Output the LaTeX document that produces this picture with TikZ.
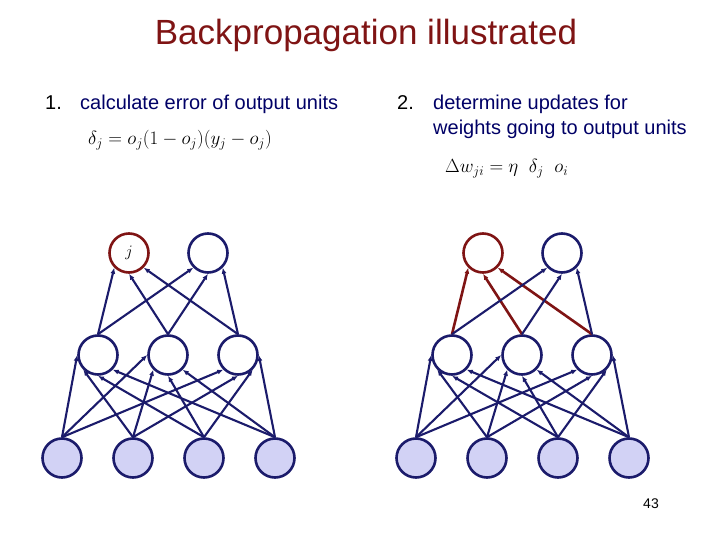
\RequirePackage{fix-cm}
\documentclass[tikz,border=0pt]{standalone}
\usepackage[no-math]{fontspec}
\setmainfont{Liberation Sans}
\usetikzlibrary{arrows.meta}
\definecolor{ink}{HTML}{1B1B6B}
\definecolor{navytext}{HTML}{000066}
\definecolor{accent}{HTML}{7F1414}
\definecolor{unitfill}{HTML}{D2D2F5}

\begin{document}
\begin{tikzpicture}[
  x=1pt, y=-1pt,
  unit/.style={
    circle,
    draw=ink,
    line width=2.6pt,
    minimum size=39pt,
    inner sep=0pt,
    fill=white
  },
  input/.style={unit, fill=unitfill},
  picked/.style={unit, draw=accent},
  arrow/.style={-{Latex[length=6pt,width=5pt]}, line width=2.1pt, draw=ink},
  hot/.style={arrow, draw=accent, line width=2.6pt},
  title/.style={font=\fontsize{35}{40}\selectfont, text=accent, anchor=base},
  num/.style={font=\fontsize{20}{24}\selectfont, text=black, anchor=base west, inner sep=0pt},
  item/.style={font=\fontsize{20}{24}\selectfont, text=navytext, anchor=base west, inner sep=0pt},
  formula/.style={font=\fontsize{19}{23}\selectfont, text=black, anchor=base west, inner sep=0pt}
]
\useasboundingbox (0,0) rectangle (720,540);

\node[title] (head) at (366,45) {Backpropagation illustrated};

\node[num] (num1) at (45,110) {1.};
\node[item] (step1) at (80,110) {calculate error of output units};
\node[formula] (delta) at (88,145) {$\delta_j = o_j(1-o_j)(y_j-o_j)$};

\node[num] (num2) at (397,110) {2.};
\node[item] (step2) at (433,110) {determine updates for};
\node[item] (step2b) at (433,135) {weights going to output units};
\node[formula] (update) at (445,173) {$\Delta w_{ji} = \eta\ \ \delta_j\ \ o_i$};

\node[font=\fontsize{14}{16}\selectfont] (page) at (651,504) {43};

% left network
\node[picked] (lo1) at (129,253) {\fontsize{16}{18}\selectfont$j$};
\node[unit] (lo2) at (208,253) {};
\node[unit] (lh1) at (98,355) {};
\node[unit] (lh2) at (168,355) {};
\node[unit] (lh3) at (238,355) {};
\node[input] (li1) at (62,458) {};
\node[input] (li2) at (133,458) {};
\node[input] (li3) at (204,458) {};
\node[input] (li4) at (275,458) {};

\draw[arrow] (li1.north) -- (lh1.west);
\draw[arrow] (li2.north) -- (lh1.south west);
\draw[arrow] (li3.north) -- (lh1.south);
\draw[arrow] (li4.north) -- (lh1.south east);
\draw[arrow] (li1.north) -- (lh2.west);
\draw[arrow] (li2.north) -- (lh2.south west);
\draw[arrow] (li3.north) -- (lh2.south);
\draw[arrow] (li4.north) -- (lh2.south east);
\draw[arrow] (li1.north) -- (lh3.south west);
\draw[arrow] (li2.north) -- (lh3.south);
\draw[arrow] (li3.north) -- (lh3.south east);
\draw[arrow] (li4.north) -- (lh3.east);

\draw[arrow] (lh1.north) -- (lo1.south west);
\draw[arrow] (lh2.north) -- (lo1.south);
\draw[arrow] (lh3.north) -- (lo1.south east);
\draw[arrow] (lh1.north) -- (lo2.south west);
\draw[arrow] (lh2.north) -- (lo2.south);
\draw[arrow] (lh3.north) -- (lo2.south east);

% right network
\node[picked] (ro1) at (483,253) {};
\node[unit] (ro2) at (562,253) {};
\node[unit] (rh1) at (452,355) {};
\node[unit] (rh2) at (522,355) {};
\node[unit] (rh3) at (592,355) {};
\node[input] (ri1) at (416,458) {};
\node[input] (ri2) at (487,458) {};
\node[input] (ri3) at (558,458) {};
\node[input] (ri4) at (629,458) {};

\draw[arrow] (ri1.north) -- (rh1.west);
\draw[arrow] (ri2.north) -- (rh1.south west);
\draw[arrow] (ri3.north) -- (rh1.south);
\draw[arrow] (ri4.north) -- (rh1.south east);
\draw[arrow] (ri1.north) -- (rh2.west);
\draw[arrow] (ri2.north) -- (rh2.south west);
\draw[arrow] (ri3.north) -- (rh2.south);
\draw[arrow] (ri4.north) -- (rh2.south east);
\draw[arrow] (ri1.north) -- (rh3.south west);
\draw[arrow] (ri2.north) -- (rh3.south);
\draw[arrow] (ri3.north) -- (rh3.south east);
\draw[arrow] (ri4.north) -- (rh3.east);

\draw[hot] (rh1.north) -- (ro1.south west);
\draw[hot] (rh2.north) -- (ro1.south);
\draw[hot] (rh3.north) -- (ro1.south east);
\draw[arrow] (rh1.north) -- (ro2.south west);
\draw[arrow] (rh2.north) -- (ro2.south);
\draw[arrow] (rh3.north) -- (ro2.south east);

\end{tikzpicture}
\end{document}
